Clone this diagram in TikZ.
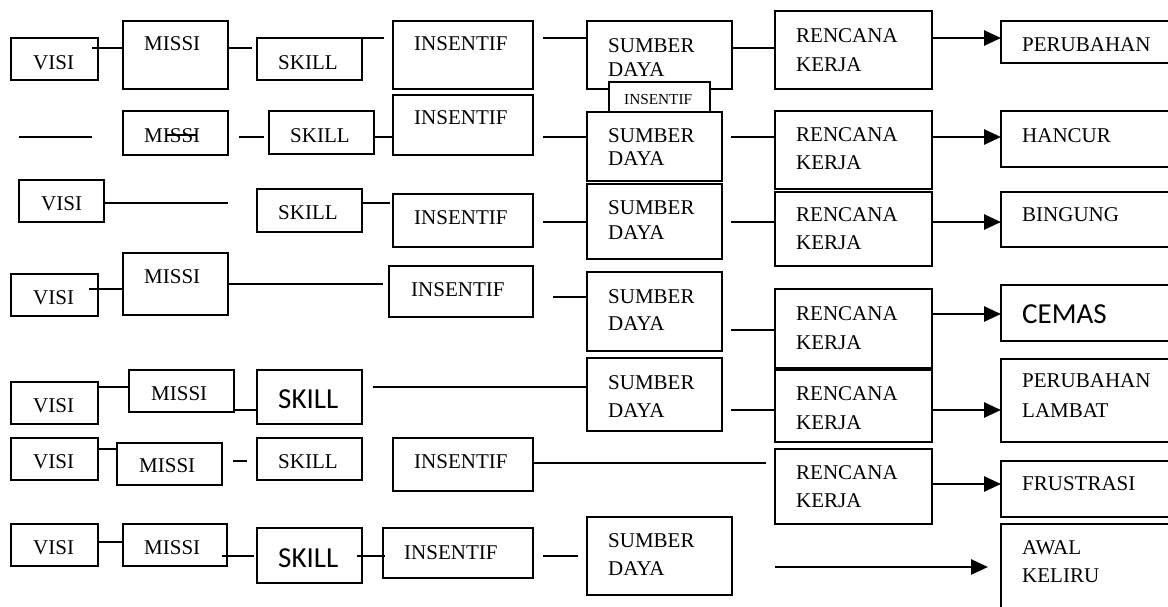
\documentclass[tikz,border=0pt]{standalone}
\usepackage{fontspec}
\setmainfont{Liberation Serif}
\newfontfamily\calibri{Carlito}
\usetikzlibrary{arrows.meta,calc}

\tikzset{
  box/.style={draw, line width=2pt, inner sep=0pt, outer sep=0pt},
  conn/.style={line width=2pt},
  flow/.style={line width=2.8pt, -{Triangle[length=17pt,width=15pt]}},
  lbl/.style={anchor=west, inner sep=0pt, text height=14pt, text depth=0pt,
    font=\fontsize{21}{25}\selectfont},
  lblc/.style={anchor=west, inner sep=0pt, text height=18.5pt, text depth=0pt,
    font=\calibri\fontsize{29}{34}\selectfont},
  lbls/.style={anchor=west, inner sep=0pt, text height=10pt, text depth=0pt,
    font=\fontsize{15.3}{18}\selectfont},
}
% \bx[options]{name}{x1}{y1}{x2}{y2}: rectangle between two corners
\newcommand{\bx}[6][]{\node[box,#1,minimum width={#5-#3},minimum height={#6-#4}]
  (#2) at ({(#3+#5)/2},{(#4+#6)/2}) {};}
% \tx[style]{name}{x}{y}{text}: label, left edge at x, caps centred on y
\newcommand{\tx}[5][lbl]{\node[#1] (#2) at (#3,#4) {#5};}

\begin{document}
\begin{tikzpicture}[x=1pt,y=-1pt]
\useasboundingbox (0,0) rectangle (1168,606);
\fill[white] (0,0) rectangle (1168,606);
\clip (0,0) rectangle (1168,606);

% ---------- row 1 ----------
\bx{visi1}{11}{38}{98}{80}
\bx{missi1}{123}{21}{228}{89}
\bx{skill1}{257}{38}{362}{80}
\bx{ins1}{393}{21}{533}{89}
\bx{sum1}{587}{21}{732}{89}
\bx{ren1}{775}{11}{932}{89}
\bx{out1}{1001}{21}{1200}{63}
\bx[fill=white]{insx}{609}{82}{710}{112}
\tx{tv1}{33}{62}{VISI}
\tx{tm1}{144}{43}{MISSI}
\tx{ts1}{278}{62}{SKILL}
\tx{ti1}{414}{43}{INSENTIF}
\tx{tsa1}{608}{45}{SUMBER}
\tx{tsb1}{608}{69}{DAYA}
\tx{tra1}{796}{35}{RENCANA}
\tx{trb1}{796}{64}{KERJA}
\tx{to1}{1022}{44}{PERUBAHAN}
\tx[lbls]{tix}{624}{99}{INSENTIF}

\draw[conn] ($(visi1.east|-0,48)+(-6,0)$) -- (missi1.west|-0,48);
\draw[conn] (missi1.east|-0,48) -- ++(24,0);
\draw[conn] ($(skill1.north east)+(-15,0)$) -- ++(37,0);
\draw[conn] ($(sum1.west|-0,38)+(-44,0)$) -- (sum1.west|-0,38);
\draw[conn] (sum1.east|-0,48) -- (ren1.west|-0,48);
\draw[flow] (ren1.east|-0,38) -- (out1.west|-0,38);

% ---------- row 2 ----------
\bx{missi2}{123}{111}{228}{155}
\bx{skill2}{269}{111}{374}{154}
\bx{ins2}{393}{95}{533}{155}
\bx{sum2}{587}{112}{722}{181}
\bx{ren2}{775}{111}{932}{189}
\bx{out2}{1001}{111}{1200}{167}
\tx{tm2}{144}{135}{MISSI}
\tx{ts2}{290}{135}{SKILL}
\tx{ti2}{414}{117}{INSENTIF}
\tx{tsa2}{608}{135}{SUMBER}
\tx{tsb2}{608}{158}{DAYA}
\tx{tra2}{796}{134}{RENCANA}
\tx{trb2}{796}{162}{KERJA}
\tx{to2}{1022}{135}{HANCUR}

\coordinate (f2a) at (19,137);
\coordinate (f2b) at (92,137);
\coordinate (f2c) at (239,137);
\coordinate (f2d) at (264,137);
\draw[conn] (f2a) -- (f2b);
\draw[line width=1.3pt] ($(tm2.west)+(23,0)$) -- ++(30,0);
\draw[conn] (f2c) -- (f2d);
\draw[conn] (skill2.east|-0,137) -- (ins2.west|-0,137);
\draw[conn] ($(sum2.west|-0,137)+(-44,0)$) -- (sum2.west|-0,137);
\draw[conn] ($(ren2.west|-0,137)+(-44,0)$) -- (ren2.west|-0,137);
\draw[flow] (ren2.east|-0,137) -- (out2.west|-0,137);

% ---------- row 3 ----------
\bx{visi3}{19}{180}{104}{222}
\bx{skill3}{257}{189}{362}{232}
\bx{ins3}{393}{194}{533}{247}
\bx{sum3}{587}{184}{722}{259}
\bx{ren3}{775}{192}{932}{266}
\bx{out3}{1001}{192}{1200}{247}
\tx{tv3}{41}{203}{VISI}
\tx{ts3}{278}{212}{SKILL}
\tx{ti3}{414}{217}{INSENTIF}
\tx{tsa3}{608}{207}{SUMBER}
\tx{tsb3}{608}{232}{DAYA}
\tx{tra3}{796}{214}{RENCANA}
\tx{trb3}{796}{242}{KERJA}
\tx{to3}{1022}{214}{BINGUNG}

\draw[conn] (visi3.east|-0,203) -- ++(124,0);
\draw[conn] (skill3.east|-0,203) -- ++(28,0);
\draw[conn] ($(sum3.west|-0,222)+(-44,0)$) -- (sum3.west|-0,222);
\draw[conn] ($(ren3.west|-0,222)+(-44,0)$) -- (ren3.west|-0,222);
\draw[flow] (ren3.east|-0,222) -- (out3.west|-0,222);

% ---------- row 4 ----------
\bx{visi4}{11}{274}{98}{316}
\bx{missi4}{123}{253}{228}{315}
\bx{ins4}{389}{266}{533}{317}
\bx{sum4}{587}{272}{722}{351}
\bx{ren4}{775}{289}{932}{368}
\bx{out4}{1001}{285}{1200}{341}
\tx{tv4}{33}{297}{VISI}
\tx{tm4}{144}{276}{MISSI}
\tx{ti4}{411}{289}{INSENTIF}
\tx{tsa4}{608}{296}{SUMBER}
\tx{tsb4}{608}{323}{DAYA}
\tx{tra4}{796}{313}{RENCANA}
\tx{trb4}{796}{342}{KERJA}
\tx[lblc]{to4}{1022}{314}{CEMAS}

\draw[conn] ($(visi4.east|-0,289)+(-9,0)$) -- (missi4.west|-0,289);
\draw[conn] (missi4.east|-0,284) -- ++(155,0);
\draw[conn] ($(sum4.west|-0,297)+(-34,0)$) -- (sum4.west|-0,297);
\draw[conn] ($(ren4.west|-0,330)+(-44,0)$) -- (ren4.west|-0,330);
\draw[flow] (ren4.east|-0,314) -- (out4.west|-0,314);

% ---------- row 5 ----------
\bx{visi5}{11}{382}{98}{424}
\bx{missi5}{129}{370}{234}{412}
\bx{skill5}{257}{370}{362}{424}
\bx{sum5}{587}{358}{722}{431}
\bx{ren5}{775}{370}{932}{442}
\bx{out5}{1001}{359}{1200}{442}
\tx{tv5}{33}{405}{VISI}
\tx{tm5}{151}{393}{MISSI}
\tx[lblc]{ts5}{278}{399}{SKILL}
\tx{tsa5}{608}{382}{SUMBER}
\tx{tsb5}{608}{410}{DAYA}
\tx{tra5}{796}{393}{RENCANA}
\tx{trb5}{796}{422}{KERJA}
\tx{toa5}{1022}{380}{PERUBAHAN}
\tx{tob5}{1022}{410}{LAMBAT}

\draw[conn] (visi5.east|-0,387) -- (missi5.west|-0,387);
\draw[conn] (missi5.east|-0,410) -- (skill5.west|-0,410);
\draw[conn] ($(sum5.west|-0,387)+(-214,0)$) -- (sum5.west|-0,387);
\draw[conn] ($(ren5.west|-0,410)+(-44,0)$) -- (ren5.west|-0,410);
\draw[flow] (ren5.east|-0,410) -- (out5.west|-0,410);

% ---------- row 6 ----------
\bx{visi6}{11}{438}{98}{480}
\bx{missi6}{117}{443}{222}{485}
\bx{skill6}{257}{438}{362}{480}
\bx{ins6}{393}{438}{533}{491}
\bx{ren6}{775}{449}{932}{524}
\bx{out6}{1001}{461}{1200}{517}
\tx{tv6}{33}{461}{VISI}
\tx{tm6}{139}{465}{MISSI}
\tx{ts6}{278}{461}{SKILL}
\tx{ti6}{414}{461}{INSENTIF}
\tx{tra6}{796}{472}{RENCANA}
\tx{trb6}{796}{500}{KERJA}
\tx{to6}{1022}{483}{FRUSTRASI}

\coordinate (f6a) at (233,461);
\coordinate (f6b) at (247,461);
\draw[conn] (visi6.east|-0,449) -- (missi6.west|-0,449);
\draw[conn] (f6a) -- (f6b);
\draw[conn] (ins6.east|-0,463) -- ++(233,0);
\draw[flow] (ren6.east|-0,484) -- (out6.west|-0,484);

% ---------- row 7 ----------
\bx{visi7}{11}{524}{98}{566}
\bx{missi7}{123}{524}{227}{566}
\bx{skill7}{257}{528}{362}{583}
\bx{ins7}{383}{528}{533}{578}
\bx{sum7}{587}{517}{732}{595}
\bx{out7}{1001}{524}{1200}{650}
\tx{tv7}{33}{547}{VISI}
\tx{tm7}{144}{547}{MISSI}
\tx[lblc]{ts7}{278}{558}{SKILL}
\tx{ti7}{404}{552}{INSENTIF}
\tx{tsa7}{608}{540}{SUMBER}
\tx{tsb7}{608}{568}{DAYA}
\tx{toa7}{1022}{547}{AWAL}
\tx{tob7}{1022}{575}{KELIRU}

\coordinate (f7a) at (775,567);
\coordinate (f7b) at (988,567);
\draw[conn] (visi7.east|-0,542) -- (missi7.west|-0,542);
\draw[conn] ($(missi7.east|-0,556)+(-5,0)$) -- ++(32,0);
\draw[conn] ($(skill7.east|-0,556)+(-5,0)$) -- ($(ins7.west|-0,556)+(2,0)$);
\draw[conn] ($(sum7.west|-0,556)+(-44,0)$) -- ++(35,0);
\draw[flow] (f7a) -- (f7b);
\end{tikzpicture}
\end{document}
